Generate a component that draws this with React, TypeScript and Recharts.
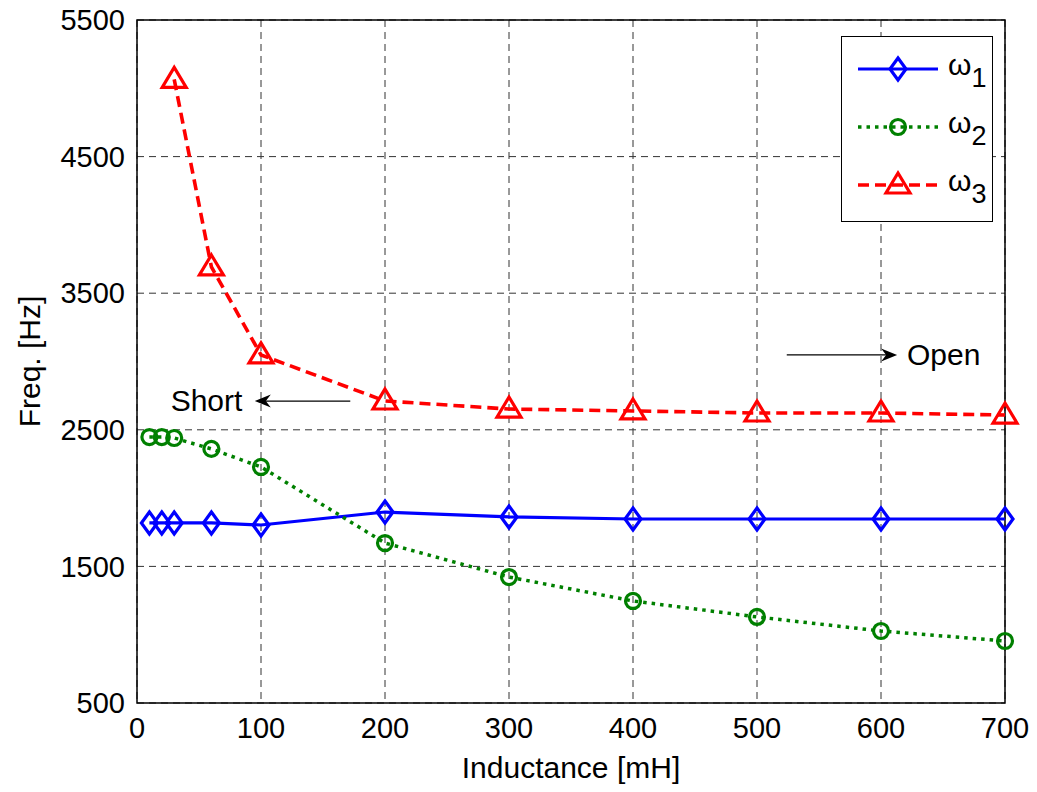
import React from 'react';
import {
  LineChart, Line, XAxis, YAxis, CartesianGrid, ReferenceArea, ReferenceLine, ReferenceDot, Legend,
} from 'recharts';

const inductance = [10, 20, 30, 60, 100, 200, 300, 400, 500, 600, 700];
const omega1 = [1818, 1818, 1818, 1818, 1803, 1898, 1862, 1847, 1847, 1847, 1847];
const omega2 = [2447, 2447, 2440, 2360, 2228, 1671, 1422, 1247, 1130, 1027, 954];
const omega3 = [null, null, 5065, 3692, 3048, 2711, 2652, 2638, 2623, 2623, 2608];

const xTicks = [0, 100, 200, 300, 400, 500, 600, 700];
const yTicks = [500, 1500, 2500, 3500, 4500, 5500];

const seriesKeys = ['w1', 'w2', 'w3'];
const seriesSubs = ['1', '2', '3'];
const seriesColors = ['#0000FF', '#008000', '#FF0000'];
const seriesDash = ['', '3.5 5', '11 6'];
const seriesWidth = [3.2, 3.5, 3.6];
const seriesMarker = ['diamond', 'circle', 'triangle'];

const shortArrow = { from: [172, 2710], to: [95, 2710], label: 'Short', labelAt: [85, 2711] };
const openArrow = { from: [524, 3048], to: [613, 3048], label: 'Open', labelAt: [621, 3052] };

const data = inductance.map((x, i) => ({ x, w1: omega1[i], w2: omega2[i], w3: omega3[i] }));

const FONT = '"Liberation Sans", Arial, sans-serif';

function Marker({ type, cx, cy, color }: any) {
  if (type === 'diamond') {
    return <path d={`M${cx},${cy - 11} L${cx + 8},${cy} L${cx},${cy + 11} L${cx - 8},${cy} Z`} fill="none" stroke={color} strokeWidth={3.2} />;
  }
  if (type === 'circle') {
    return <circle cx={cx} cy={cy} r={7.5} fill="none" stroke={color} strokeWidth={3.2} />;
  }
  return <path d={`M${cx},${cy - 12} L${cx + 12},${cy + 8} L${cx - 12},${cy + 8} Z`} fill="none" stroke={color} strokeWidth={3.2} strokeLinejoin="miter" />;
}

const makeDot = (i: number) => (props: any) => {
  const { cx, cy, value, index } = props;
  if (value == null || cx == null || cy == null) return <g key={`d${i}-${index}`} />;
  return <g key={`d${i}-${index}`}><Marker type={seriesMarker[i]} cx={cx} cy={cy} color={seriesColors[i]} /></g>;
};

const Arrow = (props: any) => {
  const { x1, y1, x2, y2 } = props;
  const dx = x2 - x1, dy = y2 - y1;
  const L = Math.sqrt(dx * dx + dy * dy) || 1;
  const ux = dx / L, uy = dy / L;
  const px = -uy, py = ux;
  const len = 16, hw = 6.5, notch = 11;
  const bx = x2 - ux * len, by = y2 - uy * len;
  const nx = x2 - ux * notch, ny = y2 - uy * notch;
  return (
    <g>
      <line x1={x1} y1={y1} x2={nx} y2={ny} stroke="#000" strokeWidth={1.3} />
      <path d={`M${x2},${y2} L${bx + px * hw},${by + py * hw} L${nx},${ny} L${bx - px * hw},${by - py * hw} Z`} fill="#000" />
    </g>
  );
};

const textShape = (label: string, anchor: string) => (props: any) => (
  <text x={props.cx} y={props.cy} dy="0.35em" textAnchor={anchor} fontSize={30} fontFamily={FONT} fill="#000">{label}</text>
);

const YLabel = (props: any) => {
  const vb = props.viewBox || {};
  const cx = (vb.x || 0) + 29;
  const cy = (vb.y || 0) + (vb.height || 0) / 2;
  return (
    <text x={cx} y={cy} transform={`rotate(-90 ${cx} ${cy})`} textAnchor="middle" dy="0.35em" fontSize={30} fontFamily={FONT} fill="#000">Freq. [Hz]</text>
  );
};

const renderLegend = () => (
  <div style={{ width: 150, height: 184, border: '1.5px solid #000', background: '#fff' }}>
    <svg width={150} height={184} style={{ display: 'block' }}>
      {seriesKeys.map((k, i) => {
        const y = 32 + i * 58;
        return (
          <g key={k}>
            <line x1={16} y1={y} x2={96} y2={y} stroke={seriesColors[i]} strokeWidth={seriesWidth[i]} strokeDasharray={seriesDash[i] || undefined} />
            <Marker type={seriesMarker[i]} cx={56} cy={y} color={seriesColors[i]} />
            <text x={106} y={y} fontSize={30} fontFamily={FONT} fill="#000" dy="0.2em">
              ω<tspan fontSize={27} dy={12}>{seriesSubs[i]}</tspan>
            </text>
          </g>
        );
      })}
    </svg>
  </div>
);

export default function App() {
  return (
    <div style={{ position: 'absolute', left: 0, top: 0, width: 1037, height: 792, background: '#fff' }}>
      <LineChart width={1037} height={792} data={data} margin={{ top: 20, right: 32, left: 0, bottom: 0 }}>
        <CartesianGrid stroke="#333" strokeDasharray="7 5" strokeWidth={1} />
        <XAxis
          dataKey="x" type="number" domain={[0, 700]} ticks={xTicks} interval={0}
          axisLine={false} tickLine={false} tickSize={0} tickMargin={14} height={89}
          tick={{ fontSize: 29, fill: '#000', fontFamily: FONT }}
          label={{ value: 'Inductance [mH]', position: 'insideBottom', offset: 14, fontSize: 30, fill: '#000', fontFamily: FONT }}
        />
        <YAxis
          type="number" domain={[500, 5500]} ticks={yTicks} interval={0}
          axisLine={false} tickLine={false} tickSize={0} tickMargin={12} width={137}
          tick={{ fontSize: 29, fill: '#000', fontFamily: FONT }}
          label={<YLabel />}
        />
        <ReferenceArea x1={0} x2={700} y1={500} y2={5500} fill="none" stroke="#000" strokeWidth={1.5} fillOpacity={0} />
        <ReferenceLine segment={[{ x: shortArrow.from[0], y: shortArrow.from[1] }, { x: shortArrow.to[0], y: shortArrow.to[1] }]} shape={Arrow} />
        <ReferenceLine segment={[{ x: openArrow.from[0], y: openArrow.from[1] }, { x: openArrow.to[0], y: openArrow.to[1] }]} shape={Arrow} />
        <ReferenceDot x={shortArrow.labelAt[0]} y={shortArrow.labelAt[1]} r={0} shape={textShape(shortArrow.label, 'end')} />
        <ReferenceDot x={openArrow.labelAt[0]} y={openArrow.labelAt[1]} r={0} shape={textShape(openArrow.label, 'start')} />
        {seriesKeys.map((k, i) => (
          <Line
            key={k} dataKey={k} type="linear" stroke={seriesColors[i]} strokeWidth={seriesWidth[i]}
            strokeDasharray={seriesDash[i] || undefined} dot={makeDot(i)} activeDot={false}
            isAnimationActive={false} connectNulls={false}
          />
        ))}
        <Legend layout="vertical" align="center" verticalAlign="middle" content={renderLegend}
          wrapperStyle={{ left: 841, top: 36, width: 153, height: 187 }} />
      </LineChart>
    </div>
  );
}
